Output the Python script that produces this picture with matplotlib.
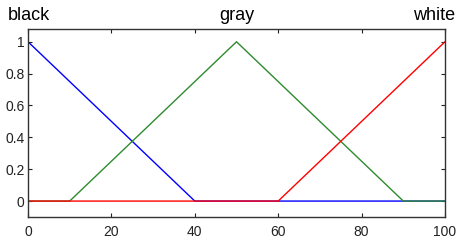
import matplotlib
matplotlib.use("Agg")
import matplotlib.pyplot as plt
import numpy as np

plt.rcParams['font.family'] = ['Liberation Sans', 'DejaVu Sans']

x = [0, 10, 40, 50, 60, 90, 100]
black = [1.0, 0.75, 0.0, 0.0, 0.0, 0.0, 0.0]
gray = [0.0, 0.0, 0.75, 1.0, 0.75, 0.0, 0.0]
white = [0.0, 0.0, 0.0, 0.0, 0.0, 0.75, 1.0]
titles = ["black", "gray", "white"]
xticks = [0, 20, 40, 60, 80, 100]
yticks = [0, 0.2, 0.4, 0.6, 0.8, 1]

fig = plt.figure(figsize=(4.58, 2.40), dpi=100)
W, H = 458, 240
ax = fig.add_axes([28 / W, 1 - 217 / H, (445 - 28) / W, (217 - 29) / H])
ax.plot(x, black, color='blue', lw=1)
ax.plot(x, gray, color='#2e8b2e', lw=1)
ax.plot(x, white, color='red', lw=1)
ax.set_xlim(0, 100)
ax.set_ylim(-0.1, 1.08)
ax.set_xticks(xticks)
ax.set_xticklabels([str(v) for v in xticks])
ax.set_yticks(yticks)
ax.set_yticklabels(["0", "0.2", "0.4", "0.6", "0.8", "1"])
ax.tick_params(direction='in', length=3, width=0.8, top=True, right=True,
               labelsize=10, colors='#222222')
ax.tick_params(axis='x', pad=6)
ax.tick_params(axis='y', pad=2.5)
for s in ax.spines.values():
    s.set_color('#333333')
    s.set_linewidth(1)

fig.text(8 / W, 1 - 20 / H, titles[0], ha='left', va='baseline', fontsize=13)
fig.text(236.5 / W, 1 - 20 / H, titles[1], ha='center', va='baseline', fontsize=13)
fig.text(455 / W, 1 - 20 / H, titles[2], ha='right', va='baseline', fontsize=13)

fig.savefig('out.png', dpi=100)
